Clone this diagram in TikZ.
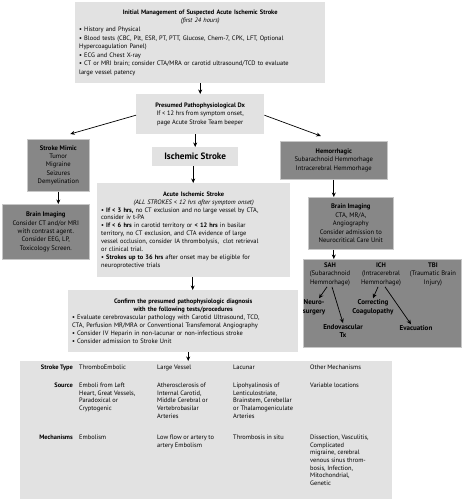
\documentclass[tikz,border=0pt]{standalone}
\usepackage{fontspec}
\setmainfont{PT Sans}
\usetikzlibrary{arrows.meta,positioning}
\definecolor{pale}{HTML}{E2E2E2}
\definecolor{slate}{HTML}{878787}
\tikzset{lbox/.style={fill=pale,anchor=north west,inner sep=4pt,align=left,
    font=\fontsize{6.4}{8.6}\selectfont},
  dbox/.style={fill=slate,draw=black!22,line width=.6pt,anchor=north west,
    inner sep=2pt,align=center,font=\fontsize{6.6}{8.4}\selectfont},
  arr/.style={line width=.7pt,-{Stealth[length=4.5pt,width=4pt]}},
  cell/.style={anchor=north west,inner sep=0pt,align=left,
    font=\fontsize{6.4}{7.6}\selectfont},
  rowlab/.style={anchor=north east,inner sep=0pt,font=\bfseries\fontsize{6.4}{7.6}\selectfont},
  tx/.style={inner sep=1pt,align=center,font=\bfseries\fontsize{7}{8.6}\selectfont},
  sub/.style={inner sep=1pt,align=center,font=\fontsize{6.6}{8.6}\selectfont}}

\begin{document}
\begin{tikzpicture}[x=1pt,y=-1pt]
\useasboundingbox (0,0) rectangle (461,500);

% Ischemic pathway, down the middle.
\node[lbox,minimum width=250,minimum height=81,text width=242] (init) at (75,2) {%
  {\centering\textbf{Initial Management of Suspected Acute Ischemic Stroke}\\
   \textit{(first 24 hours)}\par}
  • History and Physical\\
  • Blood tests (CBC, Plt, ESR, PT, PTT, Glucose, Chem-7, CPK, LFT, Optional\\
  Hypercoagulation Panel)\\
  • ECG and Chest X-ray\\
  • CT or MRI brain; consider CTA/MRA or carotid ultrasound/TCD to evaluate\\
  large vessel patency};
\node[lbox,align=center,minimum width=128,minimum height=40] (dx) at (136,94)
  {\textbf{Presumed Pathophysiological Dx}\\If < 12 hrs from symptom onset,\\
   page Acute Stroke Team beeper};
\node[lbox,align=center,minimum width=86,minimum height=19,
  font=\bfseries\fontsize{9.2}{10}\selectfont] (isch) at (152,147) {Ischemic Stroke};
\node[lbox,minimum width=193,minimum height=94,text width=185,
  font=\fontsize{6.4}{7.9}\selectfont] (acute) at (97,183) {%
  {\centering\textbf{Acute Ischemic Stroke}\\
   \textit{(ALL STROKES < 12 hrs after symptom onset)}\par}
  • \textbf{If < 3 hrs,} no CT exclusion and no large vessel by CTA,\\
  consider iv t-PA\\
  • \textbf{If < 6 hrs} in carotid territory or \textbf{< 12 hrs} in basilar\\
  territory, no CT exclusion, and CTA evidence of large\\
  vessel occlusion, consider IA thrombolysis,\ \ clot retrieval\\
  or clinical trial.\\
  • \textbf{Strokes up to 36 hrs} after onset may be eligible for\\
  neuroprotective trials};
\node[lbox,minimum width=230,minimum height=62,text width=222,
  font=\fontsize{6.4}{8}\selectfont] (confirm) at (68,290) {%
  {\centering\textbf{Confirm the presumed pathophysiologic diagnosis}\\
   \textbf{with the following tests/procedures}\par}
  • Evaluate cerebrovascular pathology with Carotid Ultrasound, TCD,\\
  CTA, Perfusion MR/MRA or Conventional Transfemoral Angiography\\
  • Consider IV Heparin in non-lacunar or non-infectious stroke\\
  • Consider admission to Stroke Unit};

% Mimic branch on the left.
\node[dbox,minimum width=62,minimum height=52] (mimic) at (27,139)
  {\textbf{Stroke Mimic}\\Tumor\\Migraine\\Seizures\\Demyelination};
\node[dbox,minimum width=87,minimum height=55] (mimicimg) at (2,204)
  {\textbf{Brain Imaging}\\Consider CT and/or MRI\\with contrast agent.\\
   Consider EEG, LP,\\Toxicology Screen.};

% Hemorrhagic branch on the right.
\node[dbox,minimum width=107,minimum height=38] (hemo) at (280,141)
  {\textbf{Hemorrhagic}\\Subarachnoid Hemmorhage\\Intracerebral Hemmorhage};
\node[dbox,minimum width=85,minimum height=52] (hemoimg) at (308,197)
  {\textbf{Brain Imaging}\\CTA, MR/A,\\Angiography\\Consider admission to\\
   Neurocritical Care Unit};
\node[dbox,minimum width=158,minimum height=88] (bleed) at (303,259) {};
\node[sub] (sah) at (330,274) {\textbf{SAH}\\(Subarachnoid\\Hemmorhage)};
\node[sub] (ich) at (381,274) {\textbf{ICH}\\(Intracerebral\\Hemmorhage)};
\node[sub] (tbi) at (433,274) {\textbf{TBI}\\(Traumatic Brain\\Injury)};
\node[tx] (neuro) at (314,307) {Neuro-\\surgery};
\node[tx] (coag) at (373,307) {Correcting\\Coagulopathy};
\node[tx] (endo) at (343,331) {Endovascular\\Tx};
\node[tx] (evac) at (416,328) {Evacuation};

% Stroke type table.
\node[fill=pale,anchor=north west,minimum width=372,minimum height=138] (types) at (20,361) {};
\node[rowlab] (typelab) at (73,365) {Stroke Type};
\node[rowlab] (srclab) at (73,383) {Source};
\node[rowlab] (mechlab) at (73,435) {Mechanisms};
\foreach \i/\x/\t in {1/79/ThromboEmbolic,2/157/Large Vessel,3/233/Lacunar,4/310/Other Mechanisms}
  \node[cell] (type\i) at (\x,365) {\t};
\foreach \i/\x/\t in {
  1/79/{Emboli from Left\\Heart, Great Vessels,\\Paradoxical or\\Cryptogenic},
  2/157/{Atherosclerosis of\\Internal Carotid,\\Middle Cerebral or\\Vertebrobasilar\\Arteries},
  3/233/{Lipohyalinosis of\\Lenticulostriate,\\Brainstem, Cerebellar\\or Thalamogeniculate\\Arteries},
  4/310/{Variable locations}}
  \node[cell] (src\i) at (\x,383) {\t};
\foreach \i/\x/\t in {
  1/79/{Embolism},
  2/157/{Low flow or artery to\\artery Embolism},
  3/233/{Thrombosis in situ},
  4/310/{Dissection, Vasculitis,\\Complicated\\migraine, cerebral\\venous sinus throm-\\bosis, Infection,\\Mitochondrial,\\Genetic}}
  \node[cell] (mech\i) at (\x,435) {\t};

% Arrows.
\draw[arr] (dx.north |- init.south) -- (dx.north);
\draw[arr] (isch.north |- dx.south) -- (isch.north);
\draw[arr] ([xshift=-2pt]isch.south) -- ([xshift=-2pt]isch.south |- acute.north);
\draw[arr] ([xshift=-1pt]acute.south) -- ([xshift=-1pt]acute.south |- confirm.north);
\draw[arr] ([xshift=5pt]confirm.south) -- ([xshift=5pt]confirm.south |- types.north);
\draw[arr] ([yshift=-1pt]dx.west) -- ([xshift=12pt,yshift=5pt]mimic.north);
\draw[arr] ([yshift=-1pt]dx.east) -- ([xshift=-13pt,yshift=5pt]hemo.north);
\draw[arr] (mimic.south) -- (mimicimg.north -| mimic.south);
\draw[arr] (hemo.south) -- (hemo.south |- hemoimg.north);
\draw[arr] (hemo.south |- hemoimg.south) -- (hemo.south |- bleed.north);
\draw[arr] ([xshift=-3pt]sah.south) -- ([xshift=5pt]neuro.north);
\draw[arr] ([xshift=2pt]sah.south) -- (endo.north);
\draw[arr] ([xshift=-3pt]ich.south) -- (coag.north);
\draw[arr] ([xshift=4pt]ich.south) -- ([xshift=-5pt]evac.north);
\end{tikzpicture}
\end{document}
